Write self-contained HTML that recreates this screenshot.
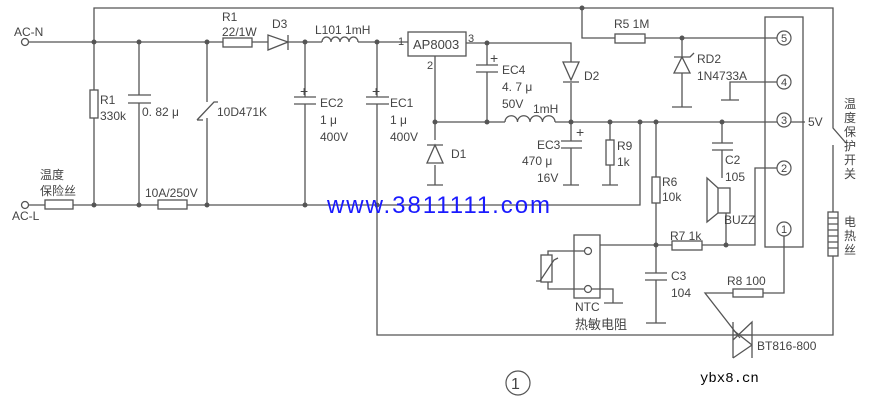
<!DOCTYPE html>
<html><head><meta charset="utf-8"><style>
body{margin:0;background:#fff}
svg{display:block}
text{font-family:"Liberation Sans","Noto Sans CJK SC",sans-serif;fill:#444;font-size:12px}
</style></head><body>
<svg width="878" height="406" viewBox="0 0 878 406" xmlns="http://www.w3.org/2000/svg">
<g stroke="#555" stroke-width="1.3" fill="none">
<path d="M94 42V8H833V128L846 143"/>
<path d="M833 145V335H377V205"/>
<path d="M28 42H223M252 42H268M288 42H322M358 42H408"/>
<circle cx="25" cy="42" r="3.5" fill="#fff"/>
<rect x="223" y="38" width="29" height="9"/>
<path d="M268 35V50L288 42Z M288 35V50"/>
<path d="M322 42a4.5 5 0 0 1 9 0a4.5 5 0 0 1 9 0a4.5 5 0 0 1 9 0a4.5 5 0 0 1 9 0"/>
<rect x="408" y="32" width="58" height="24"/>
<path d="M28 205H45M73 205H158M187 205H640V122"/>
<circle cx="25" cy="205" r="3.5" fill="#fff"/>
<rect x="45" y="200" width="28" height="9"/>
<rect x="158" y="200" width="29" height="9"/>
<path d="M94 42V90M94 118V205"/><rect x="90" y="90" width="8" height="28"/>
<path d="M139 42V95M139 103V205M128 95H151M128 103H151"/>
<path d="M207 42V102M207 118V205M197 120L214 102H218M197 120H203"/>
<path d="M305 42V97M305 104V205M294 97H316M294 104H316"/>
<path d="M377 42V97M377 104V205M366 97H389M366 104H389"/>
<path d="M435 56V140M435 165V185M427 185H443"/>
<path d="M427 163H443L435 145Z M427 145H443"/>
<path d="M466 43H571V62M571 83V122"/>
<path d="M563 62H579L571 80Z M563 82H579"/>
<path d="M487 43V65M487 72V122M476 65H498M476 72H498"/>
<path d="M435 122H505M555 122H805"/>
<path d="M505 122a6 6 0 0 1 12.5 0a6 6 0 0 1 12.5 0a6 6 0 0 1 12.5 0a6 6 0 0 1 12.5 0"/>
<path d="M571 122V141M571 148V185M561 141H582M561 148H582M563 185H579"/>
<path d="M610 122V140M610 165V185M602 185H618"/><rect x="606" y="140" width="8" height="25"/>
<path d="M656 122V177M656 203V273M656 280V323M646 323H666M645 273H667M645 280H667"/><rect x="652" y="177" width="8" height="26"/>
<path d="M722 122V143M722 150V178M712 143H733M712 150H733"/>
<rect x="718" y="188" width="12" height="25"/><path d="M718 188L707 178V222L718 213"/>
<path d="M726 213V245"/>
<path d="M582 8V38H615M645 38H779"/><rect x="615" y="34" width="30" height="9"/>
<path d="M682 38V57M682 73V107M672 107H692M674 73H690L682 57Z M674 57H690L694 53"/>
<path d="M779 82H730V100M721 100H739"/>
<rect x="765" y="17" width="38" height="230"/>
<path d="M779 168H755V245H702M672 245H600"/>
<rect x="672" y="241" width="30" height="9"/>
<path d="M784 236V293H763M733 293H705L740 338"/>
<rect x="733" y="289" width="30" height="8"/>
<path d="M733 322V358M752 322V358M733 335H752L752 322L733 340M752 345L733 358"/>
<path d="M733 330L752 345"/>
<rect x="828" y="212" width="10" height="44" fill="#fff"/>
<path d="M828 218H838M828 224H838M828 230H838M828 236H838M828 242H838M828 248H838"/>
<rect x="574" y="235" width="26" height="63"/>
<path d="M584 251H548V255M584 289H548V282M592 289H613V303M604 303H623"/>
<rect x="541" y="255" width="11" height="27"/><path d="M536 281L540 281L554 260L558 258"/>
</g>
<g fill="#555">
<circle cx="94" cy="42" r="2.5"/><circle cx="139" cy="42" r="2.5"/><circle cx="207" cy="42" r="2.5"/><circle cx="305" cy="42" r="2.5"/><circle cx="377" cy="42" r="2.5"/>
<circle cx="94" cy="205" r="2.5"/><circle cx="139" cy="205" r="2.5"/><circle cx="207" cy="205" r="2.5"/><circle cx="305" cy="205" r="2.5"/><circle cx="377" cy="205" r="2.5"/>
<circle cx="487" cy="43" r="2.5"/><circle cx="582" cy="8" r="2.5"/><circle cx="682" cy="38" r="2.5"/>
<circle cx="435" cy="122" r="2.5"/><circle cx="487" cy="122" r="2.5"/><circle cx="571" cy="122" r="2.5"/><circle cx="610" cy="122" r="2.5"/><circle cx="640" cy="122" r="2.5"/><circle cx="656" cy="122" r="2.5"/><circle cx="722" cy="122" r="2.5"/>
<circle cx="656" cy="245" r="2.5"/><circle cx="726" cy="245" r="2.5"/>
</g>
<g stroke="#555" stroke-width="1.2" fill="#fff">
<circle cx="784" cy="38" r="7"/><circle cx="784" cy="82" r="7"/><circle cx="784" cy="120" r="7"/><circle cx="784" cy="168" r="7"/><circle cx="784" cy="229" r="7"/>
<circle cx="588" cy="251" r="3.5"/><circle cx="588" cy="289" r="3.5"/>
<circle cx="518" cy="383" r="12" fill="none"/>
</g>
<g>
<text x="784" y="42" text-anchor="middle" style="font-size:11px">5</text><text x="784" y="86" text-anchor="middle" style="font-size:11px">4</text><text x="784" y="124" text-anchor="middle" style="font-size:11px">3</text><text x="784" y="172" text-anchor="middle" style="font-size:11px">2</text><text x="784" y="233" text-anchor="middle" style="font-size:11px">1</text>
<text x="14" y="36">AC-N</text><text x="12" y="220">AC-L</text>
<text x="40" y="179">温度</text><text x="40" y="195">保险丝</text>
<text x="222" y="21">R1</text><text x="222" y="36">22/1W</text><text x="272" y="28">D3</text><text x="315" y="34">L101  1mH</text>
<text x="100" y="104">R1</text><text x="100" y="120">330k</text><text x="142" y="116">0. 82 μ</text><text x="217" y="116">10D471K</text>
<text x="320" y="107">EC2</text><text x="320" y="124">1 μ</text><text x="320" y="141">400V</text>
<text x="390" y="107">EC1</text><text x="390" y="124">1 μ</text><text x="390" y="141">400V</text>
<text x="300" y="96" style="font-size:14px">+</text><text x="372" y="96" style="font-size:14px">+</text><text x="490" y="63" style="font-size:14px">+</text><text x="576" y="137" style="font-size:14px">+</text>
<text x="145" y="197">10A/250V</text>
<text x="413" y="49" style="font-size:13px">AP8003</text><text x="398" y="45" style="font-size:11px">1</text><text x="427" y="69" style="font-size:11px">2</text><text x="468" y="42" style="font-size:11px">3</text>
<text x="502" y="74">EC4</text><text x="502" y="91">4. 7 μ</text><text x="502" y="108">50V</text><text x="533" y="113">1mH</text>
<text x="584" y="80">D2</text><text x="451" y="158">D1</text>
<text x="537" y="149">EC3</text><text x="522" y="165">470 μ</text><text x="537" y="182">16V</text>
<text x="617" y="150">R9</text><text x="617" y="166">1k</text>
<text x="614" y="28">R5  1M</text><text x="697" y="63">RD2</text><text x="697" y="80">1N4733A</text>
<text x="808" y="126">5V</text>
<text x="725" y="164">C2</text><text x="725" y="181">105</text><text x="724" y="224">BUZZ</text>
<text x="662" y="186">R6</text><text x="662" y="201">10k</text>
<text x="670" y="240">R7  1k</text><text x="671" y="280">C3</text><text x="671" y="297">104</text>
<text x="727" y="285">R8  100</text><text x="757" y="350">BT816-800</text>
<text x="575" y="311">NTC</text><text x="575" y="329" style="font-size:13px">热敏电阻</text>
<g style="font-size:14px">
<text x="844" y="108">温</text><text x="844" y="122">度</text><text x="844" y="136">保</text><text x="844" y="150">护</text><text x="844" y="164">开</text><text x="844" y="178">关</text>
<text x="844" y="226">电</text><text x="844" y="240">热</text><text x="844" y="254">丝</text>
</g>
<text x="511" y="389" style="font-size:16px">1</text>
<text x="700" y="382" style="fill:#000;font-size:14px;font-family:'Liberation Mono',monospace">ybx8.cn</text>
<text x="327" y="213" textLength="223" lengthAdjust="spacing" style="fill:#1a1aff;font-size:24px">www.3811111.com</text>
</g>
</svg>
</body></html>
